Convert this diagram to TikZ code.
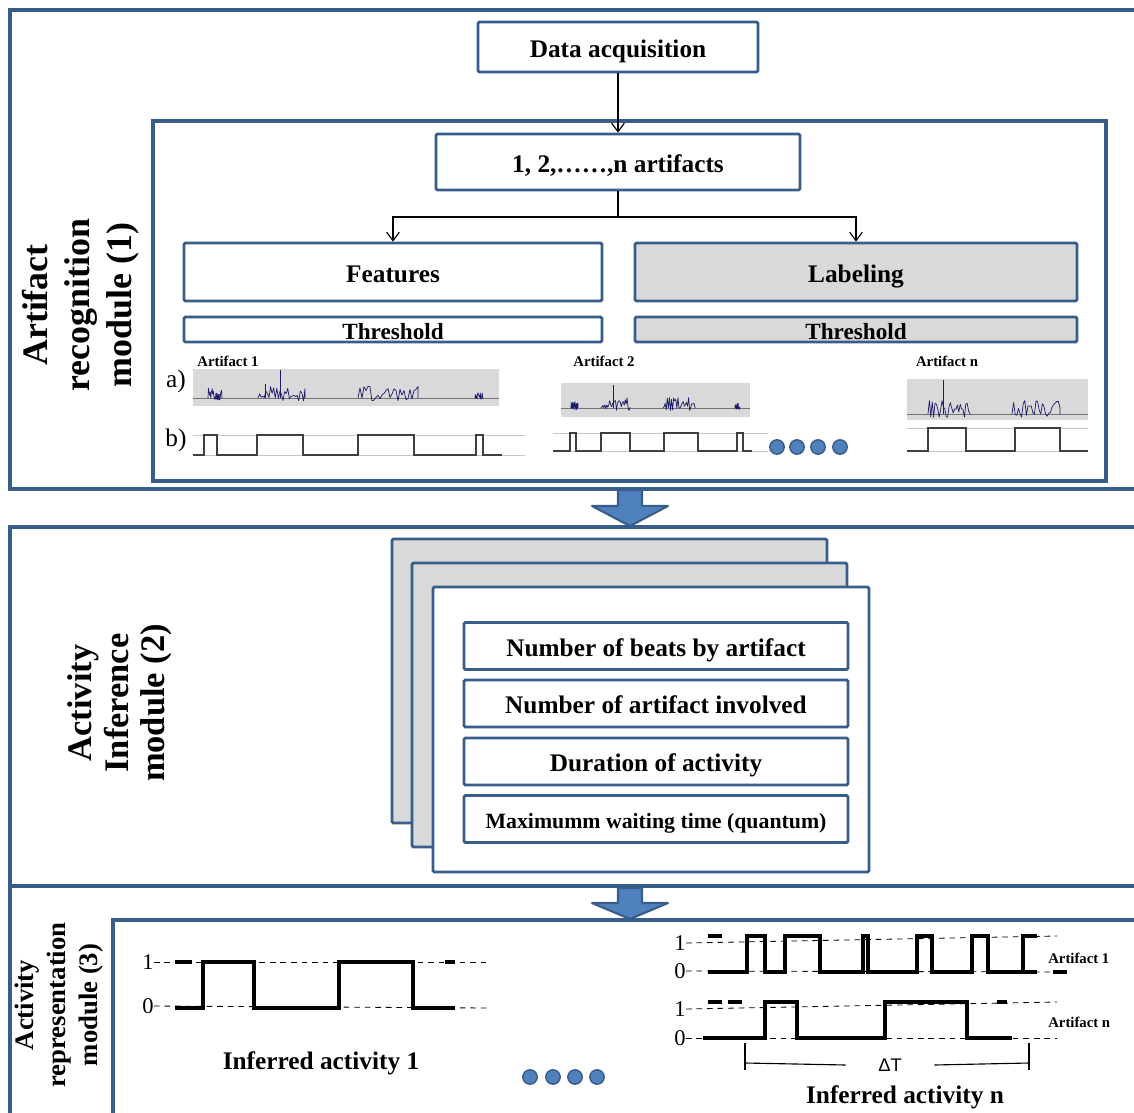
\documentclass[tikz,border=0pt]{standalone}
\usepackage{fontspec}
\setmainfont{Liberation Serif}
\newfontfamily\arialfont{Liberation Sans}
\usetikzlibrary{arrows.meta}

\definecolor{edgeblue}{HTML}{385D8A}
\definecolor{fillblue}{HTML}{4F81BD}
\definecolor{panelgray}{HTML}{D9D9D9}
\definecolor{sigblue}{HTML}{1C1C6B}
\definecolor{wavegray}{HTML}{3F3F3F}

\newcommand{\burst}[4]{\draw[spike] (#1,#3) \foreach \k in {1,...,30} { -- ({#1+\k*(#2-#1)/30},{#3-(rnd-0.2)*#4}) } -- (#2,#3);}

\begin{document}
\begin{tikzpicture}[x=0.025cm,y=-0.025cm,
	box/.style={draw=edgeblue, line width=2pt, fill=white, inner sep=0pt, rounded corners=1pt, text height=14.5pt, text depth=0pt, font=\bfseries\fontsize{18}{20}\selectfont},
	greybox/.style={box, fill=panelgray},
	thbox/.style={box, minimum height=0.625cm, text height=13.7pt, font=\bfseries\fontsize{16.5}{18}\selectfont},
	panel/.style={draw=edgeblue, line width=2.2pt},
	modlabel/.style={rotate=90, align=center, font=\bfseries\fontsize{25.5}{30}\selectfont},
	blockarrow/.style={draw=edgeblue, fill=fillblue, line width=1.5pt, line join=round},
	link/.style={-{Straight Barb[length=6pt,width=9pt]}, line width=0.8pt},
	small/.style={font=\bfseries\fontsize{10.5}{12}\selectfont, inner sep=0pt},
	tag/.style={font=\fontsize{18}{20}\selectfont, inner sep=0pt},
	lvl/.style={font=\fontsize{16}{18}\selectfont, inner sep=0pt},
	guide/.style={black!22, line width=0.5pt},
	sigbase/.style={black!55, line width=0.4pt},
	spike/.style={sigblue, line width=0.5pt, line join=round},
	wave/.style={wavegray, line width=1.3pt},
	thickwave/.style={black, line width=2.8pt},
	level/.style={black, line width=0.6pt, dash pattern=on 4pt off 3.5pt},
	dot/.style={circle, draw=edgeblue, fill=fillblue, line width=1pt, minimum size=0.36cm, inner sep=0pt}]
\useasboundingbox (0,0) rectangle (1134,1113);
\clip (0,0) rectangle (1134,1113);
\pgfmathsetseed{11}

\draw[panel] (1140,10) -- (10,10) -- (10,489) -- (1140,489);
\draw[panel] (1140,527) -- (10,527) -- (10,886) -- (1140,886);
\draw[panel] (10,886) -- (10,1120);
\draw[panel] (153,121) rectangle (1106,481);
\draw[panel] (1140,920) -- (113,920) -- (113,1120);

\node[modlabel] (m1) at (81,305) {Artifact\\recognition\\module (1)};
\node[modlabel, font=\bfseries\fontsize{24.5}{26}\selectfont] (m2) at (120,703) {Activity\\Inference\\module (2)};
\node[modlabel, font=\bfseries\fontsize{19}{23}\selectfont] (m3) at (59,1005) {Activity\\representation\\module (3)};

\node[box, minimum width=7cm, minimum height=1.25cm] (daq) at (618,47) {Data acquisition};
\node[box, minimum width=9.1cm, minimum height=1.4cm] (arts) at (618,162) {1, 2,……,n artifacts};
\node[box, minimum width=10.45cm, minimum height=1.45cm] (feat) at (393,272) {Features};
\node[greybox, minimum width=11.05cm, minimum height=1.45cm] (lab) at (856,272) {Labeling};
\node[thbox, minimum width=10.45cm] (thf) at (393,329.5) {Threshold};
\node[thbox, fill=panelgray, minimum width=11.05cm] (thl) at (856,329.5) {Threshold};
\coordinate (split) at (618,217);
\draw[link] (daq) -- (arts);
\draw[line width=0.8pt] (arts.south) -- (split);
\draw[link] (split) -| (feat.north);
\draw[link] (split) -| (lab.north);

\node[small] (art1) at (228,361) {Artifact 1};
\node[small] (art2) at (604,361) {Artifact 2};
\node[small] (artn) at (947,361) {Artifact n};
\node[tag] (ta) at (176,381) {a)};
\node[tag] (tb) at (176,440) {b)};

\fill[panelgray] (193,369) rectangle (499,406);
\draw[sigbase] (193,398) -- (499,398);
\burst{208}{222}{398}{13}
\burst{258}{305}{398}{16}
\burst{358}{418}{398}{15}
\burst{475}{483}{398}{7}
\draw[spike] (280,398) -- (280,370);
\draw[spike] (265,398) -- (265,384);
\draw[guide] (193,435) -- (525,435) (193,455) -- (525,455);
\draw[wave] (193,455) -| (204,435) -| (217,455) -| (257,435) -| (303,455) -| (358,435) -| (414,455) -| (476,435) -| (483,455) -- (502,455);

\fill[panelgray] (561,383) rectangle (750,417);
\draw[sigbase] (561,408) -- (750,408);
\burst{571}{578}{408}{9}
\burst{601}{630}{408}{13}
\burst{663}{695}{408}{13}
\burst{735}{740}{408}{6}
\draw[spike] (613,408) -- (613,385);
\draw[guide] (553,433) -- (768,433) (553,451) -- (768,451);
\draw[wave] (553,451) -| (570,433) -| (576,451) -| (601,433) -| (630,451) -| (664,433) -| (698,451) -| (737,433) -| (743,451) -- (752,451);
\foreach \x [count=\i] in {777,797,818,840}
	\node[dot] (da\i) at (\x,447) {};

\fill[panelgray] (907,379) rectangle (1088,420);
\draw[sigbase] (907,414) -- (1088,414);
\burst{928}{970}{414}{17}
\burst{1012}{1060}{414}{17}
\draw[spike] (943,414) -- (943,380);
\draw[guide] (907,428) -- (1088,428) (907,451) -- (1088,451);
\draw[wave] (907,451) -| (928,428) -| (966,451) -| (1015,428) -| (1060,451) -- (1088,451);

\draw[blockarrow] (618,490) -- (642,490) -- (642,506) -- (668,506) -- (630,526) -- (592,506) -- (618,506) -- cycle;

\node[greybox, minimum width=10.875cm, minimum height=7.1cm] (card1) at (609.5,681) {};
\node[greybox, minimum width=10.875cm, minimum height=7.1cm] (card2) at (629.5,705) {};
\node[box, minimum width=10.9cm, minimum height=7.125cm] (card3) at (651,729.5) {};
\node[box, minimum width=9.6cm, minimum height=1.175cm] (beats) at (656,646) {Number of beats by artifact};
\node[box, minimum width=9.6cm, minimum height=1.175cm] (involved) at (656,703.5) {Number of artifact involved};
\node[box, minimum width=9.6cm, minimum height=1.175cm] (duration) at (656,761.5) {Duration of activity};
\node[box, minimum width=9.6cm, minimum height=1.175cm, text height=13pt, font=\bfseries\fontsize{15.5}{17}\selectfont] (quantum) at (656,819) {Maximumm waiting time (quantum)};

\draw[blockarrow] (618,888) -- (642,888) -- (642,903) -- (668,903) -- (630,919) -- (592,903) -- (618,903) -- cycle;

\node[lvl] (g1one) at (148,962) {1};
\node[lvl] (g1zero) at (148,1006) {0};
\draw[level] (g1one.east) -- (488,962);
\draw[level] (g1zero.east) -- (488,1008);
\draw[thickwave] (175,962) -- (192,962) (445,962) -- (455,962);
\draw[thickwave] (175,1008) -| (203,962) -| (254,1008) -| (339,962) -| (413,1008) -- (455,1008);
\node[font=\bfseries\fontsize{18}{20}\selectfont] (inf1) at (321,1063) {Inferred activity 1};
\foreach \x [count=\i] in {530,553,575,597}
	\node[dot] (db\i) at (\x,1077) {};

\node[lvl] (gaone) at (680,943) {1};
\node[lvl] (gazero) at (680,971) {0};
\draw[level] (gaone.east) -- (1057,936);
\draw[level] (gazero.east) -- (1057,972);
\draw[thickwave] (708,936) -- (722,936) (1053,972) -- (1067,972);
\draw[thickwave] (708,972) -| (747,936) -| (765,972) -| (785,936) -| (820,972) -| (863,936) -| (868,972) -| (917,936) -| (932,972) -| (972,936) -| (988,972) -- (1037,972);
\draw[thickwave] (1023,972) -- (1023,936) -- (1037,936);
\node[small, anchor=west] (lga) at (1048,958) {Artifact 1};

\node[lvl] (gnone) at (680,1009) {1};
\node[lvl] (gnzero) at (680,1038) {0};
\draw[level] (gnone.east) -- (1057,1002);
\draw[level] (gnzero.east) -- (1057,1038);
\draw[thickwave] (708,1002) -- (722,1002) (728,1002) -- (742,1002) (997,1002) -- (1007,1002);
\draw[thickwave] (703,1038) -| (765,1002) -| (797,1038) -| (885,1002) -| (967,1038) -- (1012,1038);
\node[small, anchor=west] (lgn) at (1048,1022) {Artifact n};

\coordinate (dtl) at (745,1063);
\coordinate (dtr) at (1029,1063);
\node[font=\arialfont\fontsize{13}{15}\selectfont, inner sep=0pt, minimum width=2.2cm] (dt) at (890,1065) {ΔT};
\draw[line width=0.8pt] (dtl) -- (dt.west) (dt.east) -- (dtr);
\draw[line width=0.8pt] (745,1043) -- (745,1070) (1029,1043) -- (1029,1070);
\node[font=\bfseries\fontsize{18}{20}\selectfont] (infn) at (905,1097) {Inferred activity n};
\end{tikzpicture}
\end{document}
